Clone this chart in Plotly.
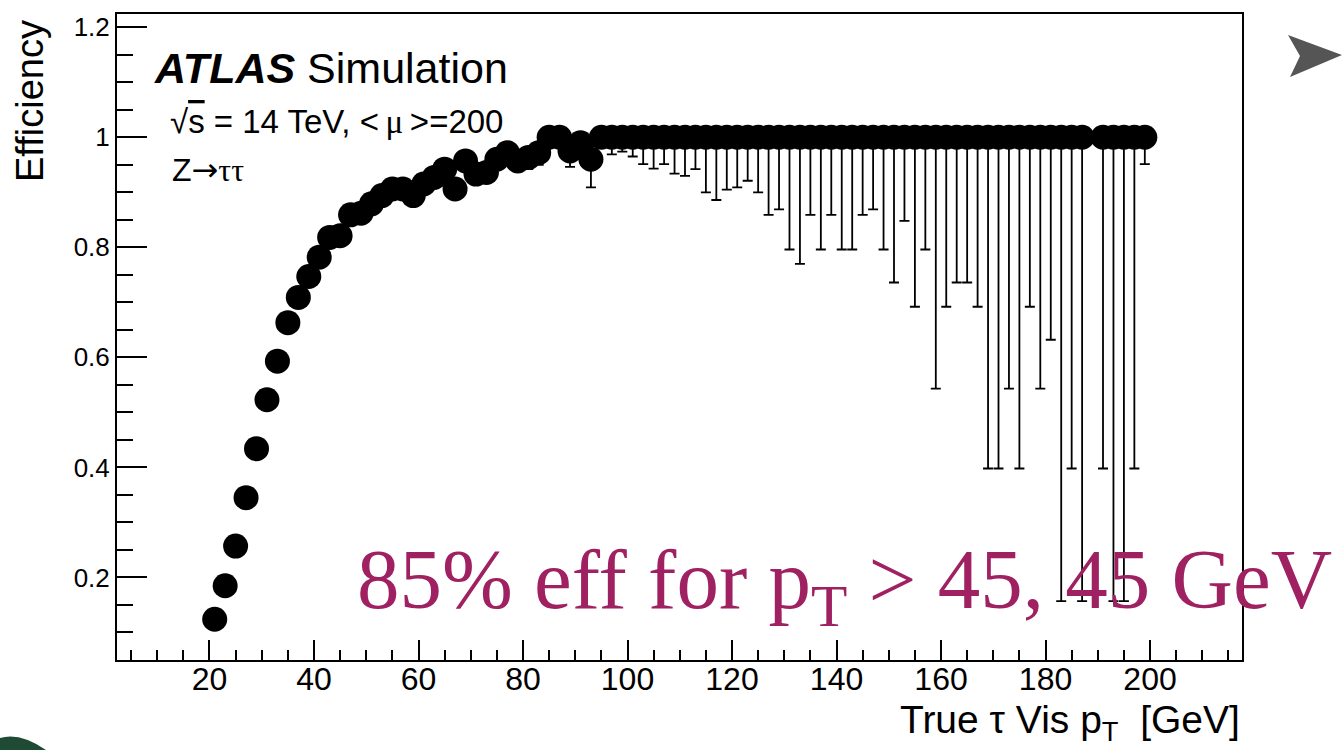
import plotly.graph_objects as go

# Bin centres of true visible tau pT [GeV] (bin at 189 GeV is empty)
pt_centres = [21, 23, 25, 27, 29, 31, 33, 35, 37, 39,
              41, 43, 45, 47, 49, 51, 53, 55, 57, 59,
              61, 63, 65, 67, 69, 71, 73, 75, 77, 79,
              81, 83, 85, 87, 89, 91, 93, 95, 97, 99,
              101, 103, 105, 107, 109, 111, 113, 115, 117, 119,
              121, 123, 125, 127, 129, 131, 133, 135, 137, 139,
              141, 143, 145, 147, 149, 151, 153, 155, 157, 159,
              161, 163, 165, 167, 169, 171, 173, 175, 177, 179,
              181, 183, 185, 187, 191, 193, 195, 197, 199]

# Efficiency per bin
efficiency = [0.124, 0.185, 0.257, 0.345, 0.434, 0.523, 0.593, 0.663, 0.709, 0.747,
              0.782, 0.818, 0.821, 0.859, 0.862, 0.879, 0.894, 0.906, 0.906, 0.894,
              0.915, 0.927, 0.942, 0.906, 0.957, 0.933, 0.936, 0.960, 0.972, 0.957,
              0.963, 0.972, 1.0, 1.0, 0.975, 0.990, 0.960, 1.0, 1.0, 1.0,
              1.0, 1.0, 1.0, 1.0, 1.0, 1.0, 1.0, 1.0, 1.0, 1.0,
              1.0, 1.0, 1.0, 1.0, 1.0, 1.0, 1.0, 1.0, 1.0, 1.0,
              1.0, 1.0, 1.0, 1.0, 1.0, 1.0, 1.0, 1.0, 1.0, 1.0,
              1.0, 1.0, 1.0, 1.0, 1.0, 1.0, 1.0, 1.0, 1.0, 1.0,
              1.0, 1.0, 1.0, 1.0, 1.0, 1.0, 1.0, 1.0, 1.0]

# Lower edge of the uncertainty interval per bin
eff_lower = [0.116, 0.177, 0.249, 0.337, 0.426, 0.515, 0.585, 0.655, 0.701, 0.739,
             0.774, 0.810, 0.813, 0.851, 0.854, 0.870, 0.885, 0.896, 0.896, 0.883,
             0.904, 0.915, 0.930, 0.892, 0.944, 0.918, 0.920, 0.945, 0.957, 0.938,
             0.942, 0.950, 0.985, 0.984, 0.946, 0.970, 0.909, 0.982, 0.969, 0.974,
             0.965, 0.951, 0.943, 0.951, 0.934, 0.930, 0.942, 0.900, 0.886, 0.905,
             0.909, 0.921, 0.900, 0.859, 0.869, 0.796, 0.770, 0.859, 0.796, 0.859,
             0.796, 0.796, 0.859, 0.869, 0.796, 0.736, 0.848, 0.692, 0.796, 0.543,
             0.692, 0.736, 0.736, 0.692, 0.398, 0.398, 0.543, 0.398, 0.692, 0.543,
             0.632, 0.157, 0.398, 0.157, 0.398, 0.157, 0.157, 0.398, 0.951]

# Upper edge of the uncertainty interval per bin
eff_upper = [0.132, 0.193, 0.265, 0.353, 0.442, 0.531, 0.601, 0.671, 0.717, 0.755,
             0.790, 0.826, 0.829, 0.867, 0.870, 0.887, 0.902, 0.915, 0.915, 0.904,
             0.925, 0.937, 0.952, 0.918, 0.967, 0.945, 0.949, 0.972, 0.983, 0.971,
             0.978, 0.985, 1.0, 1.0, 0.990, 0.998, 0.984, 1.0, 1.0, 1.0,
             1.0, 1.0, 1.0, 1.0, 1.0, 1.0, 1.0, 1.0, 1.0, 1.0,
             1.0, 1.0, 1.0, 1.0, 1.0, 1.0, 1.0, 1.0, 1.0, 1.0,
             1.0, 1.0, 1.0, 1.0, 1.0, 1.0, 1.0, 1.0, 1.0, 1.0,
             1.0, 1.0, 1.0, 1.0, 1.0, 1.0, 1.0, 1.0, 1.0, 1.0,
             1.0, 1.0, 1.0, 1.0, 1.0, 1.0, 1.0, 1.0, 1.0]

err_minus = [e - lo for e, lo in zip(efficiency, eff_lower)]
err_plus = [hi - e for e, hi in zip(efficiency, eff_upper)]

W, H = 1342, 750
ML, MR, MT, MB = 117, 100, 14, 90
PW, PH = W - ML - MR, H - MT - MB


def fx(px):
    return (px - ML) / PW


def fy(py):
    return (H - MB - py) / PH


SANS = "Liberation Sans, Arial, Helvetica, sans-serif"
SERIF = "Liberation Serif, Times New Roman, serif"
GREEK = "font-family:'Liberation Serif', serif"
ARROW = "font-family:'DejaVu Sans', sans-serif"

fig = go.Figure()
fig.add_trace(go.Scatter(
    x=pt_centres, y=efficiency, mode="markers",
    marker=dict(symbol="circle", size=25, color="black", line=dict(width=0)),
    error_y=dict(type="data", symmetric=False, array=err_plus, arrayminus=err_minus,
                 color="black", thickness=1.8, width=5),
    cliponaxis=False, showlegend=False,
))

axis_common = dict(showgrid=False, zeroline=False, showline=True, linecolor="black",
                   linewidth=2, mirror=True, ticks="inside", tickcolor="black",
                   tickwidth=1.5)

fig.update_xaxes(range=[2.3, 217.6], tick0=0, dtick=20, ticklen=20,
                 ticklabelstandoff=-10,
                 tickfont=dict(family=SANS, size=32, color="black"),
                 minor=dict(ticks="inside", dtick=5, tick0=0, ticklen=10,
                            tickcolor="black", tickwidth=1.5),
                 **axis_common)
fig.update_yaxes(range=[0.05, 1.224], tick0=0, dtick=0.2, ticklen=30,
                 tickfont=dict(family=SANS, size=26, color="black"),
                 minor=dict(ticks="inside", dtick=0.05, tick0=0, ticklen=16,
                            tickcolor="black", tickwidth=1.5),
                 **axis_common)

annotations = [
    dict(x=fx(152), y=fy(68), xanchor="left", yanchor="middle",
         text="<b><i>ATLAS</i></b> Simulation",
         font=dict(family=SANS, size=43, color="black")),
    dict(x=fx(168), y=fy(121), xanchor="left", yanchor="middle",
         text=("√<span style='text-decoration:overline'>s</span> = 14 TeV, "
               f"&lt;\u2009<span style=\"{GREEK}\">μ</span>\u2009&gt;=200"),
         font=dict(family=SANS, size=33, color="black")),
    dict(x=fx(170), y=fy(170), xanchor="left", yanchor="middle",
         text=(f"Z<span style=\"{ARROW}\">→</span>"
               f"<span style=\"{GREEK}\">ττ</span>"),
         font=dict(family=SANS, size=32, color="black")),
    dict(x=fx(30), y=fy(18), xanchor="center", yanchor="top", textangle=-90,
         text="Efficiency",
         font=dict(family=SANS, size=38, color="black")),
    dict(x=fx(1242), y=fy(722), xanchor="right", yanchor="middle",
         text="True τ Vis p<sub>T</sub>  [GeV]",
         font=dict(family=SANS, size=39, color="black")),
    dict(x=fx(355), y=fy(585), xanchor="left", yanchor="middle",
         text="85% eff for p<sub>T</sub> &gt; 45, 45 GeV",
         font=dict(family=SERIF, size=85, color="#A02161")),
]
for a in annotations:
    a.update(xref="paper", yref="paper", showarrow=False)

shapes = [
    # slide bullet arrowhead
    dict(type="path", xref="paper", yref="paper",
         path=(f"M {fx(1288)} {fy(35)} L {fx(1342)} {fy(55)} L {fx(1290)} {fy(77)} "
               f"L {fx(1300)} {fy(56)} Z"),
         fillcolor="#555555", line=dict(width=0), layer="above"),
    # slide decoration at the lower left corner
    dict(type="path", xref="paper", yref="paper",
         path=(f"M {fx(0)} {fy(750)} L {fx(0)} {fy(738)} Q {fx(20)} {fy(732)} "
               f"{fx(46)} {fy(750)} Z"),
         fillcolor="#1f4a34", line=dict(width=0), layer="above"),
]

fig.update_layout(
    width=W, height=H,
    margin=dict(l=ML, r=MR, t=MT, b=MB, pad=0),
    paper_bgcolor="white", plot_bgcolor="white",
    annotations=annotations, shapes=shapes, showlegend=False,
)

fig.write_html("out.html")
